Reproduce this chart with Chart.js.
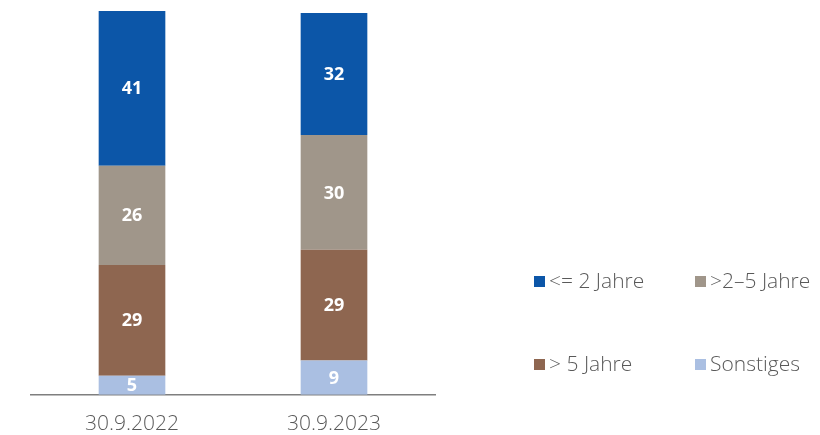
<!DOCTYPE html>
<html>
<head>
<meta charset="utf-8">
<script src="https://cdn.jsdelivr.net/npm/chart.js@4"></script>
<style>
  html, body { margin: 0; padding: 0; background: #fff; overflow: hidden; }
  #wrap { position: relative; width: 820px; height: 435px; overflow: hidden; }
  #c { position: absolute; left: 0; top: 0; }
  .lg { position: absolute; font-family: "Open Sans", sans-serif; font-weight: 300; font-size: 21px; color: #595959; white-space: nowrap; line-height: 22px; }
  .lg i { display: inline-block; width: 11px; height: 11px; margin-right: 4px; vertical-align: 1px; }
</style>
</head>
<body>
<div id="wrap">
  <canvas id="c" width="820" height="454"></canvas>
  <div id="legend"></div>
</div>
<script>
const categories = ["30.9.2022", "30.9.2023"];
const seriesNames = ["Sonstiges", "> 5 Jahre", ">2\u20135 Jahre", "<= 2 Jahre"];
const sonstiges = [5, 9];
const ueber5 = [29, 29];
const zwei5 = [26, 30];
const bis2 = [41, 32];
const colors = ["#AABFE2", "#8E6650", "#A0968A", "#0C56A8"];

const seriesValues = [sonstiges, ueber5, zwei5, bis2];

const labelPlugin = {
  id: "barLabels",
  afterDatasetsDraw(chart) {
    const ctx = chart.ctx;
    ctx.save();
    ctx.font = "bold 18px 'Open Sans', sans-serif";
    ctx.fillStyle = "#ffffff";
    ctx.textAlign = "center";
    ctx.textBaseline = "middle";
    chart.data.datasets.forEach((ds, i) => {
      const meta = chart.getDatasetMeta(i);
      meta.data.forEach((bar, j) => {
        const top = Math.max(bar.y, chart.chartArea.top);
        const y = (top + bar.base) / 2;
        ctx.fillText(String(ds.data[j]), bar.x, y + 1);
      });
    });
    ctx.restore();
  }
};

new Chart(document.getElementById("c"), {
  type: "bar",
  data: {
    labels: categories,
    datasets: seriesValues.map((v, i) => ({
      label: seriesNames[i],
      data: v,
      backgroundColor: colors[i],
      borderWidth: 0,
      barPercentage: 0.33,
      categoryPercentage: 1
    }))
  },
  options: {
    responsive: false,
    animation: false,
    layout: { padding: { left: 31, right: 385, top: 11, bottom: 0 } },
    plugins: { legend: { display: false }, tooltip: { enabled: false } },
    scales: {
      x: {
        stacked: true,
        grid: { display: false, drawTicks: false },
        border: { display: true, color: "#7F7F7F", width: 1.5 },
        ticks: { color: "#595959", padding: 17, font: { family: "'Open Sans', sans-serif", size: 21, weight: 300 } }
      },
      y: {
        stacked: true,
        display: false,
        min: 0,
        max: 100.5
      }
    }
  },
  plugins: [labelPlugin]
});

// HTML legend (2x2 grid)
const legendItems = [
  { name: seriesNames[3], color: colors[3], x: 534, y: 269 },
  { name: seriesNames[2], color: colors[2], x: 695, y: 269 },
  { name: seriesNames[1], color: colors[1], x: 534, y: 352 },
  { name: seriesNames[0], color: colors[0], x: 695, y: 352 }
];
const lg = document.getElementById("legend");
legendItems.forEach(it => {
  const d = document.createElement("div");
  d.className = "lg";
  d.style.left = it.x + "px";
  d.style.top = it.y + "px";
  const sq = document.createElement("i");
  sq.style.background = it.color;
  d.appendChild(sq);
  d.appendChild(document.createTextNode(it.name));
  lg.appendChild(d);
});
</script>
</body>
</html>
